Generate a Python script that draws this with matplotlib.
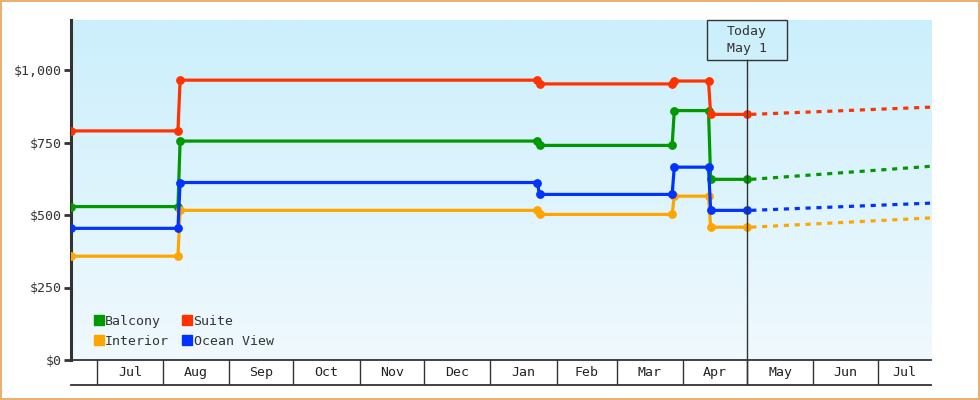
import datetime as dt

import matplotlib
matplotlib.use("Agg")
import matplotlib.dates as mdates
import matplotlib.pyplot as plt
import numpy as np
from matplotlib.lines import Line2D
from matplotlib.patches import Rectangle
from matplotlib.transforms import blended_transform_factory

plt.rcParams.update({
    "font.family": ["DejaVu Sans Mono"],
    "font.size": 9.5,
    "text.color": "#333333",
})

D = dt.date

# observed price points (one date list shared by all cabins)
obs_dates = [D(2022, 6, 19), D(2022, 8, 8), D(2022, 8, 9), D(2023, 1, 23), D(2023, 1, 24),
             D(2023, 3, 27), D(2023, 3, 28), D(2023, 4, 13), D(2023, 4, 14), D(2023, 5, 1)]
balcony = [529, 529, 755, 755, 740, 740, 860, 860, 623, 623]
suite = [790, 790, 965, 965, 952, 952, 962, 962, 847, 847]
interior = [358, 358, 516, 516, 502, 502, 565, 565, 458, 458]
ocean_view = [454, 454, 612, 612, 571, 571, 665, 665, 516, 516]

# forecast (dotted) after today
fc_dates = [D(2023, 5, 3), D(2023, 7, 26)]
balcony_fc = [623, 668]
suite_fc = [847, 872]
interior_fc = [458, 490]
ocean_view_fc = [516, 541]

today = D(2023, 5, 1)
x_start, x_end = D(2022, 6, 19), D(2023, 7, 26)
y_ticks = [0, 250, 500, 750, 1000]

series = [
    ("Balcony", "#009900", balcony, balcony_fc),
    ("Interior", "#ffa500", interior, interior_fc),
    ("Suite", "#ff3300", suite, suite_fc),
    ("Ocean View", "#0033ff", ocean_view, ocean_view_fc),
]

W, H = 980, 400
fig = plt.figure(figsize=(W / 100, H / 100), dpi=100)
fig.patch.set_facecolor("white")
fig.add_artist(Rectangle((0.001, 0.002), 0.998, 0.996, transform=fig.transFigure,
                         fill=False, edgecolor="#e8a860", linewidth=1.3))

L, R, T, B = 71, 931, 20, 360
ax = fig.add_axes([L / W, 1 - B / H, (R - L) / W, (B - T) / H])
band = fig.add_axes([L / W, 1 - 385 / H, (R - L) / W, 25 / H])

# background gradient
grad = np.linspace(0, 1, 256).reshape(-1, 1)
top = np.array([0xcb, 0xef, 0xfc]) / 255
bot = np.array([0xf0, 0xf9, 0xfe]) / 255
img = top + (bot - top) * grad[..., None]
ax.imshow(img, extent=[0, 1, 0, 1], transform=ax.transAxes, aspect="auto", zorder=0)

for name, color, obs, fc in series:
    ax.plot(obs_dates, obs, color=color, lw=2.3, marker="o", ms=5.3, zorder=3)
    ax.plot(fc_dates, fc, color=color, lw=2.3, ls=(0, (1.6, 1.8)), zorder=3)

ax.set_xlim(x_start, x_end)
ax.set_ylim(0, (B - T) / 0.29)
ax.set_yticks(y_ticks)
ax.set_yticklabels([f"${v:,}" for v in y_ticks])
ax.set_xticks([])
ax.tick_params(axis="y", length=5, width=2, color="#333333", labelcolor="#333333", pad=2)
for s in ["top", "right"]:
    ax.spines[s].set_visible(False)
ax.spines["left"].set_linewidth(2.2)
ax.spines["left"].set_color("#333333")
ax.spines["bottom"].set_linewidth(1.3)
ax.spines["bottom"].set_color("#333333")

# today marker
trans = blended_transform_factory(ax.transData, ax.transAxes)
box_h = 40 / (B - T)
half_w = 40 / 2.139
tnum = mdates.date2num(today)
ax.plot([today, today], [0, 1 - box_h], color="#333333", lw=1, transform=trans, zorder=4)
ax.add_patch(Rectangle((tnum - half_w, 1 - box_h), 2 * half_w, box_h, transform=trans,
                       fill=False, edgecolor="#333333", lw=1, zorder=5, clip_on=False))
ax.text(tnum, 1 - box_h / 2, "Today\nMay 1", transform=trans, ha="center", va="center",
        linespacing=1.35, zorder=6)

# legend
handles = [Line2D([], [], marker="s", ls="none", color=c, ms=7.5) for _, c, _, _ in series]
ax.legend(handles, [n for n, _, _, _ in series], ncol=2, loc="lower left",
          bbox_to_anchor=(0.016, 0.008), frameon=False, handlelength=0.7, handletextpad=0.15,
          columnspacing=1.0, labelspacing=0.55, borderaxespad=0.3, fontsize=9.5)

# month band
band.set_xlim(x_start, x_end)
band.set_ylim(0, 1)
band.axis("off")
band.plot([x_start, x_end], [0, 0], color="#333333", lw=1.3, clip_on=False)
band.plot([today, today], [0, 1], color="#333333", lw=1)
month_starts = []
y, m = 2022, 7
while D(y, m, 1) < x_end:
    month_starts.append(D(y, m, 1))
    y, m = (y + 1, 1) if m == 12 else (y, m + 1)
for i, ms in enumerate(month_starts):
    band.plot([ms, ms], [0, 1], color="#333333", lw=1)
    nxt = month_starts[i + 1] if i + 1 < len(month_starts) else x_end
    mid = mdates.num2date((mdates.date2num(ms) + mdates.date2num(nxt)) / 2)
    band.text(mid, 0.5, ms.strftime("%b"), ha="center", va="center", color="#222222")

fig.savefig("out.png", dpi=100)
